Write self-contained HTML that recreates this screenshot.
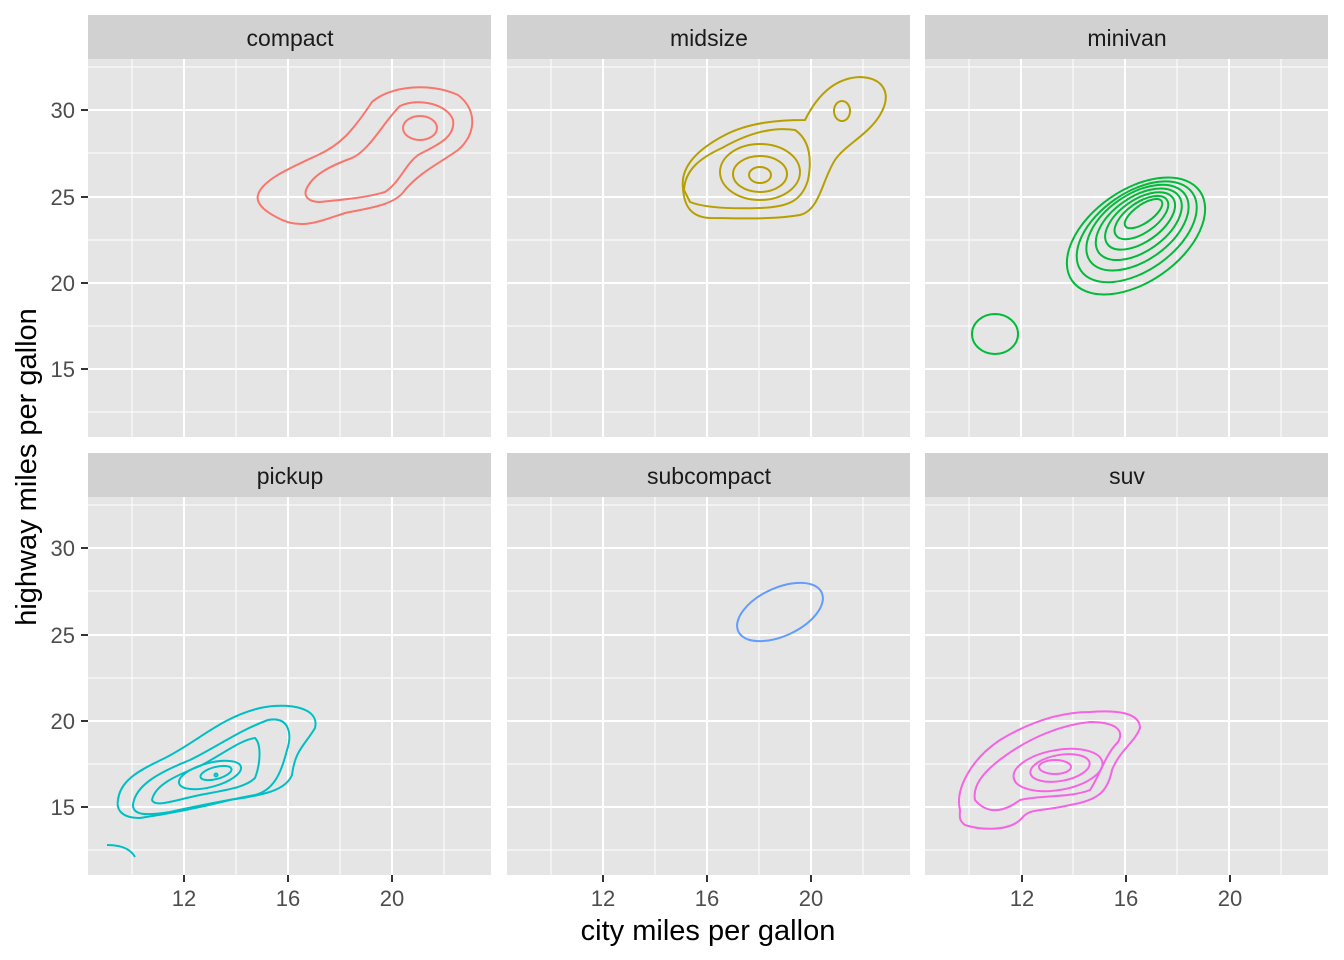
<!DOCTYPE html>
<html><head><meta charset="utf-8"><style>html,body{margin:0;padding:0;background:#fff}svg{display:block}</style></head><body>
<svg width="1344" height="960" viewBox="0 0 1344 960" xmlns="http://www.w3.org/2000/svg" font-family="Liberation Sans, sans-serif">
<defs>
<g id="panel">
<rect x="0" y="0" width="403" height="378" fill="#E5E5E5"/>
<g stroke="#fff" stroke-width="1">
<line x1="44" y1="0" x2="44" y2="378"/><line x1="148" y1="0" x2="148" y2="378"/><line x1="252" y1="0" x2="252" y2="378"/><line x1="356" y1="0" x2="356" y2="378"/>
<line x1="0" y1="8" x2="403" y2="8"/><line x1="0" y1="94" x2="403" y2="94"/><line x1="0" y1="181" x2="403" y2="181"/><line x1="0" y1="267" x2="403" y2="267"/><line x1="0" y1="353" x2="403" y2="353"/>
</g>
<g stroke="#fff" stroke-width="2">
<line x1="96" y1="0" x2="96" y2="378"/><line x1="200" y1="0" x2="200" y2="378"/><line x1="304" y1="0" x2="304" y2="378"/>
<line x1="0" y1="51" x2="403" y2="51"/><line x1="0" y1="138" x2="403" y2="138"/><line x1="0" y1="224" x2="403" y2="224"/><line x1="0" y1="310" x2="403" y2="310"/>
</g>
</g>
</defs>
<use href="#panel" x="88" y="59"/><use href="#panel" x="507" y="59"/><use href="#panel" x="925" y="59"/>
<use href="#panel" x="88" y="497"/><use href="#panel" x="507" y="497"/><use href="#panel" x="925" y="497"/>
<g fill="#D1D1D1">
<rect x="88" y="15" width="403" height="44"/><rect x="507" y="15" width="403" height="44"/><rect x="925" y="15" width="403" height="44"/>
<rect x="88" y="453" width="403" height="44"/><rect x="507" y="453" width="403" height="44"/><rect x="925" y="453" width="403" height="44"/>
</g>
<g font-size="23" fill="#1A1A1A" text-anchor="middle">
<text x="290" y="46">compact</text><text x="709" y="46">midsize</text><text x="1127" y="46">minivan</text>
<text x="290" y="484">pickup</text><text x="709" y="484">subcompact</text><text x="1127" y="484">suv</text>
</g>
<g font-size="22" fill="#4D4D4D" text-anchor="end">
<text x="75" y="118">30</text><text x="75" y="205">25</text><text x="75" y="291">20</text><text x="75" y="377">15</text>
<text x="75" y="556">30</text><text x="75" y="643">25</text><text x="75" y="729">20</text><text x="75" y="815">15</text>
</g>
<g stroke="#333" stroke-width="2">
<line x1="81" y1="110" x2="88" y2="110"/><line x1="81" y1="197" x2="88" y2="197"/><line x1="81" y1="283" x2="88" y2="283"/><line x1="81" y1="369" x2="88" y2="369"/>
<line x1="81" y1="548" x2="88" y2="548"/><line x1="81" y1="635" x2="88" y2="635"/><line x1="81" y1="721" x2="88" y2="721"/><line x1="81" y1="807" x2="88" y2="807"/>
<line x1="184" y1="875" x2="184" y2="882"/><line x1="288" y1="875" x2="288" y2="882"/><line x1="392" y1="875" x2="392" y2="882"/>
<line x1="603" y1="875" x2="603" y2="882"/><line x1="707" y1="875" x2="707" y2="882"/><line x1="811" y1="875" x2="811" y2="882"/>
<line x1="1022" y1="875" x2="1022" y2="882"/><line x1="1126" y1="875" x2="1126" y2="882"/><line x1="1230" y1="875" x2="1230" y2="882"/>
</g>
<g font-size="22" fill="#4D4D4D" text-anchor="middle">
<text x="184" y="906">12</text><text x="288" y="906">16</text><text x="392" y="906">20</text>
<text x="603" y="906">12</text><text x="707" y="906">16</text><text x="811" y="906">20</text>
<text x="1022" y="906">12</text><text x="1126" y="906">16</text><text x="1230" y="906">20</text>
</g>
<text x="708" y="940" font-size="29" text-anchor="middle" fill="#000">city miles per gallon</text>
<text transform="translate(36,467) rotate(-90)" font-size="29" text-anchor="middle" fill="#000">highway miles per gallon</text>
<g fill="none" stroke="#F8766D" stroke-width="2">
<path d="M258,195 C262,180 290,168 318,155 C340,145 352,132 372,102 C390,86 430,82 458,95 C478,110 476,135 458,150 C440,163 420,172 405,190 C395,205 370,208 345,213 C318,222 300,230 278,218 C262,210 256,202 258,195Z"/>
<path d="M306,190 C312,175 330,166 352,158 C370,150 385,120 400,106 C420,97 448,105 453,120 C456,138 435,146 418,155 C405,165 400,182 385,192 C365,198 340,200 320,202 C308,202 304,196 306,190Z"/>
<ellipse cx="420" cy="128" rx="17" ry="12"/>
</g>
<g fill="none" stroke="#B79F00" stroke-width="2">
<path d="M683,188 C680,165 700,148 725,135 C750,122 780,120 805,120 C815,100 832,78 860,77 C885,78 892,95 880,115 C868,135 845,145 835,160 C822,180 820,210 800,215 C770,220 740,218 710,218 C690,217 684,205 683,188Z"/>
<path d="M684,190 C685,170 700,158 722,148 C745,135 770,126 795,130 C810,140 812,160 808,180 C802,200 790,207 760,208 C730,209 705,208 690,202Z"/>
<ellipse cx="760" cy="172" rx="40" ry="28"/>
<ellipse cx="760" cy="174" rx="27" ry="18"/>
<ellipse cx="760" cy="175" rx="11" ry="8"/>
<ellipse cx="842" cy="111" rx="8" ry="10"/>
</g>
<g fill="none" stroke="#00BA38" stroke-width="2">
<ellipse cx="995" cy="334" rx="23" ry="20"/>
<g transform="rotate(-35 1136 236)">
<ellipse cx="1136" cy="236" rx="78" ry="46"/>
<ellipse cx="1139" cy="233" rx="68" ry="39"/>
<ellipse cx="1142" cy="230" rx="58" ry="33"/>
<ellipse cx="1145" cy="228" rx="49" ry="27"/>
<ellipse cx="1148" cy="226" rx="40" ry="21"/>
<ellipse cx="1151" cy="224" rx="31" ry="15"/>
<ellipse cx="1155" cy="222" rx="22" ry="9"/>
</g>
</g>
<g fill="none" stroke="#00BFC4" stroke-width="2">
<path d="M107,845 C120,845 130,848 135,857"/>
<path d="M118,800 C120,780 140,770 165,758 C200,740 220,718 260,708 C290,702 320,708 315,728 C305,745 295,750 292,775 C285,792 260,795 230,800 C190,810 160,815 140,818 C122,818 116,810 118,800Z"/>
<path d="M133,805 C135,785 160,772 190,760 C215,748 240,730 268,720 C290,716 292,735 287,750 C282,770 275,790 255,795 C230,800 200,805 170,812 C145,816 133,815 133,805Z"/>
<path d="M152,800 C155,785 175,776 200,766 C220,756 240,740 255,738 C262,745 260,765 255,778 C245,788 225,790 200,795 C175,800 155,808 152,800Z"/>
<ellipse cx="210" cy="775" rx="32" ry="12" transform="rotate(-15 210 775)"/>
<ellipse cx="216" cy="773" rx="16" ry="6" transform="rotate(-15 216 773)"/>
<circle cx="216" cy="775" r="1.5"/>
</g>
<ellipse cx="780" cy="612" rx="46" ry="24" transform="rotate(-25 780 612)" fill="none" stroke="#619CFF" stroke-width="2"/>
<g fill="none" stroke="#F564E3" stroke-width="2">
<path d="M960,810 C955,790 970,760 1000,740 C1030,722 1060,712 1090,712 C1115,710 1140,712 1140,728 C1135,742 1120,750 1112,770 C1108,790 1100,800 1070,805 C1040,812 1030,808 1022,818 C1010,832 980,830 965,825 C958,820 960,815 960,810Z"/>
<path d="M975,800 C972,785 985,770 1005,756 C1030,738 1060,725 1090,722 C1115,722 1125,730 1118,742 C1105,755 1100,775 1090,790 C1070,798 1040,795 1020,800 C1000,815 985,812 975,800Z"/>
<ellipse cx="1058" cy="770" rx="45" ry="20" transform="rotate(-10 1058 770)"/>
<ellipse cx="1060" cy="768" rx="30" ry="13" transform="rotate(-10 1060 768)"/>
<ellipse cx="1055" cy="767" rx="16" ry="7"/>
</g>
</svg>
</body></html>
